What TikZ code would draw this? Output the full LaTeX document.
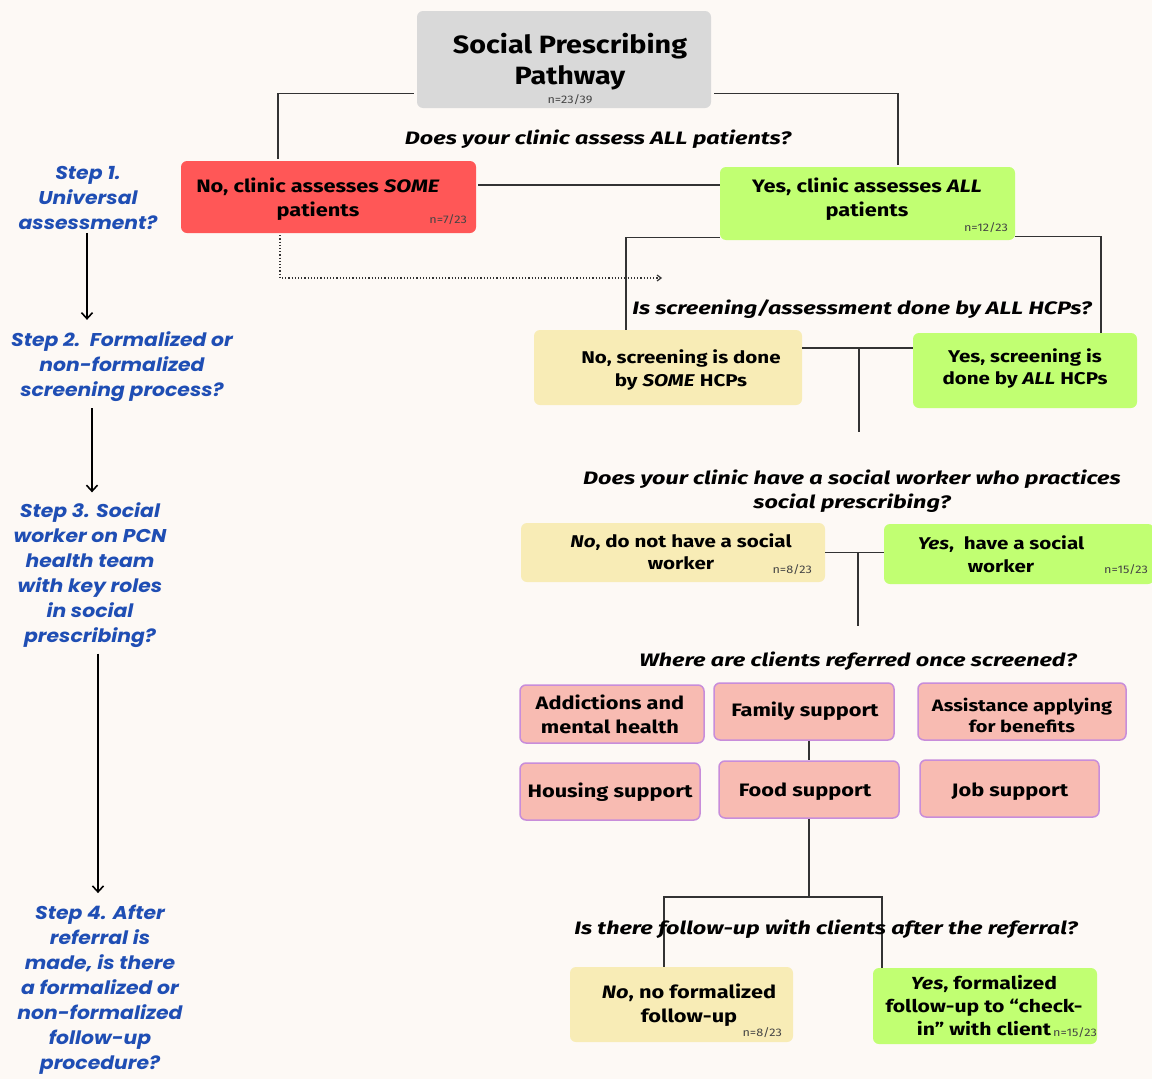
\documentclass[tikz,border=0pt]{standalone}
\usepackage{fontspec}
\setmainfont{Fira Sans}
\newfontfamily\bodyfont{Fira Sans}[FakeStretch=1.21]
\newfontfamily\titlefont{Fira Sans}[FakeStretch=1.15]
\newfontfamily\qfont{Fira Sans}[FakeStretch=1.3]
\newfontfamily\nfont{Fira Sans}[FakeStretch=1.15]
\newfontfamily\stepfont{Poppins}[FakeStretch=1.1]
\usetikzlibrary{arrows.meta}
\definecolor{bgc}{HTML}{FDF9F5}
\definecolor{grayc}{HTML}{D9D9D9}
\definecolor{redc}{HTML}{FF5757}
\definecolor{greenc}{HTML}{C1FF72}
\definecolor{yellowc}{HTML}{F8ECB6}
\definecolor{pinkc}{HTML}{F8BBB2}
\definecolor{pinkedge}{HTML}{C88DDA}
\definecolor{stepblue}{HTML}{1F4EB4}
\definecolor{linec}{HTML}{333333}
\definecolor{ngray}{HTML}{444444}
\tikzset{
  box/.style={rounded corners=6pt, inner sep=0pt},
  pinkbox/.style={box, fill=pinkc, draw=pinkedge, line width=1.5pt},
  txt/.style={inner sep=0pt, align=center, text=black, font=\bodyfont\fontsize{18}{24}\selectfont\bfseries},
  qtxt/.style={inner sep=0pt, align=center, text=black, font=\qfont\fontsize{18}{24}\selectfont\bfseries\itshape},
  nlab/.style={inner sep=0pt, anchor=east, text=ngray, font=\nfont\fontsize{11}{13}\selectfont},
  steptxt/.style={inner sep=0pt, align=center, text=stepblue, font=\stepfont\fontsize{18.5}{25}\selectfont\bfseries\itshape},
  conn/.style={draw=linec, line width=1.4pt},
  dotconn/.style={draw=linec, line width=1.2pt, dotted, -{Straight Barb[length=4pt,width=6pt]}},
  steparrow/.style={draw=black, line width=2pt, -{Straight Barb[length=6pt,width=11pt,line width=1.6pt]}}
}
\begin{document}
\begin{tikzpicture}[x=1pt,y=-1pt]
\useasboundingbox (0,0) rectangle (1152,1079);
\fill[bgc] (0,0) rectangle (1152,1079);

% ---- boxes ----
\node[box, fill=grayc, minimum width=294pt, minimum height=97pt] (title) at (564,59.5) {};
\node[box, fill=redc, minimum width=295pt, minimum height=72pt] (red) at (328.5,197) {};
\node[box, fill=greenc, minimum width=295pt, minimum height=73pt] (grn1) at (867.5,203.5) {};
\node[box, fill=yellowc, minimum width=268pt, minimum height=75pt] (yel2) at (668,367.5) {};
\node[box, fill=greenc, minimum width=224pt, minimum height=75pt] (grn2) at (1025,370.5) {};
\node[box, fill=yellowc, minimum width=304pt, minimum height=59pt] (yel3) at (673,552.5) {};
\node[box, fill=greenc, minimum width=270pt, minimum height=60pt] (grn3) at (1019,554) {};
\node[pinkbox, minimum width=184pt, minimum height=58pt] (add) at (612,714) {};
\node[pinkbox, minimum width=180pt, minimum height=57pt] (fam) at (804,711.5) {};
\node[pinkbox, minimum width=208pt, minimum height=57pt] (ass) at (1022,711.5) {};
\node[pinkbox, minimum width=180pt, minimum height=57pt] (hou) at (610,791.5) {};
\node[pinkbox, minimum width=180pt, minimum height=57pt] (food) at (809,789.5) {};
\node[pinkbox, minimum width=179pt, minimum height=57pt] (job) at (1009.5,788.5) {};
\node[box, fill=yellowc, minimum width=223pt, minimum height=75pt] (yel4) at (681.5,1004.5) {};
\node[box, fill=greenc, minimum width=224pt, minimum height=76pt] (grn4) at (985,1006) {};

% ---- connectors ----
\draw[conn] ([xshift=-3pt,yshift=15pt]title.south west) -| ([xshift=-50.5pt,yshift=2pt]red.north);
\draw[conn] ([xshift=3pt,yshift=15pt]title.south east) -| ([xshift=30.5pt,yshift=2pt]grn1.north);
\draw[conn] ([xshift=2pt,yshift=12pt]red.east) -- ([yshift=12pt]red.east -| grn1.west);
\draw[conn] ([yshift=3pt]grn1.south west) -| ([xshift=-42pt]yel2.north);
\draw[conn] ([yshift=4pt]grn1.south east) -| ([xshift=76pt]grn2.north);
\coordinate (dotend) at (662,278);
\draw[dotconn] ([xshift=-48.5pt,yshift=-2pt]red.south) |- (dotend);
\draw[conn] ([yshift=19.5pt]yel2.east) -- ([yshift=19.5pt]yel2.east -| grn2.west);
\coordinate (j2) at (859,348);
\coordinate (e2) at (859,432);
\draw[conn] (j2) -- (e2);
\draw[conn] (yel3.east) -- (yel3.east -| grn3.west);
\coordinate (j3) at (858,552.5);
\coordinate (e3) at (858,626);
\draw[conn] (j3) -- (e3);
\draw[conn] (food.north |- fam.south) -- (food.north);
\coordinate (j4) at (809,897);
\draw[conn] (food.south) -- (j4);
\draw[conn] ([xshift=-17.5pt]yel4.north) |- ([xshift=-103pt]grn4.north |- j4) -- ([xshift=-103pt]grn4.north);

% ---- texts ----
\node[txt, font=\titlefont\fontsize{25}{31}\selectfont\bfseries] (ttl) at (570,62) {Social Prescribing\\Pathway};
\node[inner sep=0pt, text=ngray, font=\nfont\fontsize{11}{13}\selectfont] (nttl) at (570,100) {n=23/39};
\node[qtxt] (q1) at (598,139) {Does your clinic assess ALL patients?};
\node[txt] (tred) at (318,199) {No, clinic assesses \textit{SOME}\\patients};
\node[nlab] (nred) at (467,220) {n=7/23};
\node[txt] (tgrn1) at (867,199) {Yes, clinic assesses \textit{ALL}\\patients};
\node[nlab] (ngrn1) at (1008,228) {n=12/23};
\node[qtxt] (q2) at (862,309) {Is screening/assessment done by ALL HCPs?};
\node[txt, font=\bodyfont\fontsize{17}{23}\selectfont\bfseries] (tyel2) at (681,370) {No, screening is done\\by \textit{SOME} HCPs};
\node[txt, font=\bodyfont\fontsize{17}{22}\selectfont\bfseries] (tgrn2) at (1025,368) {Yes, screening is\\done by \textit{ALL} HCPs};
\node[qtxt] (q3) at (852,491) {Does your clinic have a social worker who practices\\social prescribing?};
\node[txt, font=\bodyfont\fontsize{17}{22}\selectfont\bfseries] (tyel3) at (681,552) {\textit{No}, do not have a social\\worker};
\node[nlab] (nyel3) at (812,570) {n=8/23};
\node[txt, font=\bodyfont\fontsize{17}{23}\selectfont\bfseries] (tgrn3) at (1001,554) {\textit{Yes},\ \ have a social\\worker};
\node[nlab] (ngrn3) at (1148,570) {n=15/23};
\node[qtxt] (q4) at (858,661) {Where are clients referred once screened?};
\node[txt] (tadd) at (610,714) {Addictions and\\mental health};
\node[txt] (tfam) at (805,711) {Family support};
\node[txt, font=\bodyfont\fontsize{16.5}{21}\selectfont\bfseries] (tass) at (1022,715) {Assistance applying\\for benefits};
\node[txt] (thou) at (610,792) {Housing support};
\node[txt] (tfood) at (805,792) {Food support};
\node[txt] (tjob) at (1010,792) {Job support};
\node[qtxt] (q5) at (826,929) {Is there follow-up with clients after the referral?};
\node[txt] (tyel4) at (689,1005) {\textit{No}, no formalized\\follow-up};
\node[nlab] (nyel4) at (782,1033) {n=8/23};
\node[txt, font=\bodyfont\fontsize{17.5}{23}\selectfont\bfseries] (tgrn4) at (984,1006) {\textit{Yes}, formalized\\follow-up to “check-\\in” with client};
\node[nlab] (ngrn4) at (1097,1033) {n=15/23};

% ---- steps ----
\node[steptxt] (s1) at (88,198) {Step 1.\\Universal\\assessment?};
\node[steptxt] (s2) at (122,367) {Step 2.\ \ Formalized or\\non-formalized\\screening process?};
\node[steptxt] (s3) at (90,575) {Step 3. Social\\worker on PCN\\health team\\with key roles\\in social\\prescribing?};
\node[steptxt] (s4) at (100,990) {Step 4. After\\referral is\\made, is there\\a formalized or\\non-formalized\\follow-up\\procedure?};
\draw[steparrow] ([xshift=-1pt,yshift=-3pt]s1.south) -- ([xshift=-1pt,yshift=12pt]s1.south |- s2.north);
\draw[steparrow] ([xshift=-30pt,yshift=-6pt]s2.south) -- ([xshift=-30pt,yshift=10pt]s2.south |- s3.north);
\draw[steparrow] ([xshift=8pt,yshift=-6pt]s3.south) -- ([xshift=8pt,yshift=12pt]s3.south |- s4.north);
\end{tikzpicture}
\end{document}
